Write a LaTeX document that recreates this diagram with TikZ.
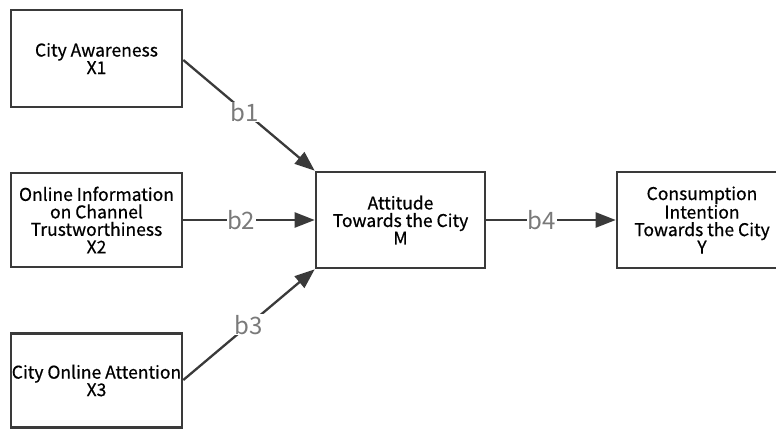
\documentclass[tikz,border=0pt]{standalone}
\usepackage{fontspec}
\setmainfont{Noto Sans CJK SC}
\newfontfamily\boxfont[FakeBold=0.6]{Noto Sans CJK SC}
\usetikzlibrary{arrows.meta}
\definecolor{boxline}{HTML}{3A3A3A}
\definecolor{lbl}{HTML}{7A7A7A}
\begin{document}
\begin{tikzpicture}[x=1pt,y=-1pt,
  vbox/.style={draw=boxline,line width=2.6pt,fill=white,inner sep=0pt,align=center,
    font=\boxfont\fontsize{17.5}{17.5}\selectfont},
  conn/.style={draw=boxline,line width=2.3pt,-{Triangle[length=20pt,width=15pt]}},
  blabel/.style={fill=white,text=lbl,font=\fontsize{24}{24}\selectfont,inner sep=0.5pt}]
\useasboundingbox (0,0) rectangle (776,429);
\fill[white] (0,0) rectangle (776,429);
\node[vbox,minimum width=171pt,minimum height=97pt] (x1) at (96.5,58.5) {City Awareness\\X1};
\node[vbox,minimum width=171pt,minimum height=94pt] (x2) at (96.5,220) {Online Information\\on Channel\\Trustworthiness\\X2};
\node[vbox,minimum width=171pt,minimum height=94pt] (x3) at (96.5,380.5) {City Online Attention\\X3};
\node[vbox,minimum width=169pt,minimum height=96pt] (m) at (400.5,220) {Attitude\\Towards the City\\M};
\node[vbox,minimum width=170pt,minimum height=96pt] (y) at (702,220) {Consumption\\Intention\\Towards the City\\Y};
\coordinate (x1e) at (x1.east|-0,60);
\coordinate (x3e) at (x3.east|-0,380);
\draw[conn] (x1e) -- node[blabel,pos=0.47] {b1} (m.north west);
\draw[conn] (x2.east) -- node[blabel,pos=0.44] {b2} (m.west);
\draw[conn] (x3e) -- node[blabel,pos=0.5] {b3} (m.south west);
\draw[conn] (m.east) -- node[blabel,pos=0.43] {b4} (y.west);
\end{tikzpicture}
\end{document}
